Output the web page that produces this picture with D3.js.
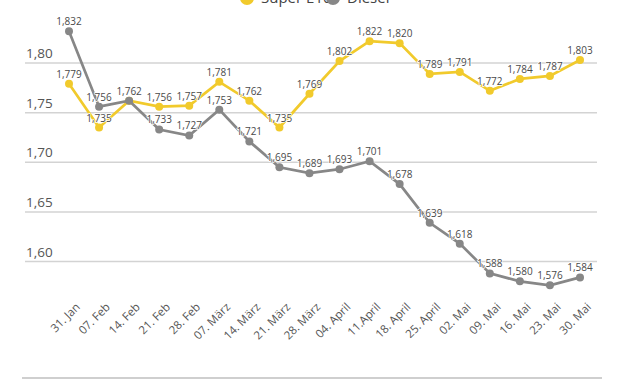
<!DOCTYPE html>
<html>
<head>
<meta charset="utf-8">
<script src="https://cdn.jsdelivr.net/npm/d3@7"></script>
<style>
  body { margin: 0; background: #fff; }
  svg { display: block; font-family: "Open Sans", sans-serif; }
</style>
</head>
<body>
<div id="chart"></div>
<script>
const dates = ["31. Jan", "07. Feb", "14. Feb", "21. Feb", "28. Feb", "07. März", "14. März", "21. März", "28. März",
  "04. April", "11.April", "18. April", "25. April", "02. Mai", "09. Mai", "16. Mai", "23. Mai", "30. Mai"];
const superE10 = [1.779, 1.735, 1.762, 1.756, 1.757, 1.781, 1.762, 1.735, 1.769, 1.802, 1.822, 1.820, 1.789, 1.791, 1.772, 1.784, 1.787, 1.803];
const diesel = [1.832, 1.756, 1.762, 1.733, 1.727, 1.753, 1.721, 1.695, 1.689, 1.693, 1.701, 1.678, 1.639, 1.618, 1.588, 1.580, 1.576, 1.584];
const yTicks = [1.60, 1.65, 1.70, 1.75, 1.80];

const width = 630, height = 381;
const fmt = v => v.toFixed(3).replace(".", ",");

const svg = d3.select("#chart").append("svg")
  .attr("width", width).attr("height", height);

const x = d3.scalePoint().domain(dates).range([69, 580]);
const y = d3.scaleLinear().domain([1.60, 1.80]).range([261.5, 63]);

// grid lines + labels
const grid = svg.append("g");
grid.selectAll("line").data(yTicks).join("line")
  .attr("x1", 25).attr("x2", 597)
  .attr("y1", d => y(d)).attr("y2", d => y(d))
  .attr("stroke", "#d3d3d3").attr("stroke-width", 1.5);
grid.selectAll("text").data(yTicks).join("text")
  .attr("x", 26).attr("y", d => y(d) - 5)
  .attr("font-size", 13.5).attr("fill", "#555")
  .text(d => d.toFixed(2).replace(".", ","));

// x labels
svg.append("g").selectAll("text").data(dates).join("text")
  .attr("transform", d => `translate(${x(d) + 6},${302}) rotate(-45)`)
  .attr("text-anchor", "end").attr("dy", "0.7em")
  .attr("font-size", 11.5).attr("fill", "#555")
  .text(d => d);

const series = [
  { name: "Super E10", values: superE10, color: "#f1ca2c" },
  { name: "Diesel", values: diesel, color: "#878787" }
];

const line = d3.line().x((d, i) => x(dates[i])).y(d => y(d));

series.forEach(s => {
  const g = svg.append("g");
  g.append("path").datum(s.values)
    .attr("d", line).attr("fill", "none")
    .attr("stroke", s.color).attr("stroke-width", 2.7);
  g.selectAll("circle").data(s.values).join("circle")
    .attr("cx", (d, i) => x(dates[i])).attr("cy", d => y(d))
    .attr("r", 4).attr("fill", s.color);
  g.selectAll("text").data(s.values).join("text")
    .attr("x", (d, i) => x(dates[i])).attr("y", d => y(d) - 6)
    .attr("text-anchor", "middle").attr("font-size", 10).attr("fill", "#4a4a4a")
    .attr("stroke", "#fff").attr("stroke-width", 1.5).attr("paint-order", "stroke")
    .text(fmt);
});

// legend (partly cut off at top, as in the original)
const legend = svg.append("g").attr("transform", "translate(247,-2)");
const lg = legend.selectAll("g").data(series).join("g")
  .attr("transform", (d, i) => `translate(${i * 86},0)`);
lg.append("circle").attr("r", 7).attr("fill", d => d.color);
lg.append("text").attr("x", 14).attr("dy", "0.35em")
  .attr("font-size", 15).attr("fill", "#444").text(d => d.name);

// bottom rule
svg.append("line").attr("x1", 22).attr("x2", 602).attr("y1", 378).attr("y2", 378)
  .attr("stroke", "#cfcfcf").attr("stroke-width", 2);
</script>
</body>
</html>
